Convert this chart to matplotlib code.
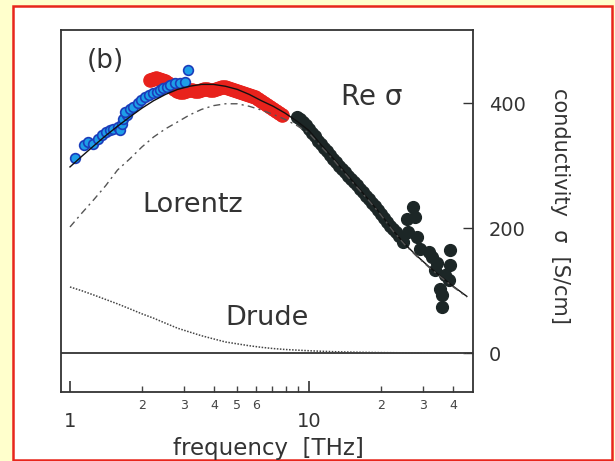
import matplotlib.pyplot as plt
from matplotlib.patches import Rectangle

# data (frequency in THz, conductivity in S/cm)
blue_f = [1.05, 1.14, 1.19, 1.25, 1.31, 1.36, 1.42, 1.47, 1.52, 1.59, 1.62, 1.65, 1.67, 1.73, 1.70,
          1.78, 1.84, 1.93, 1.99, 2.06, 2.13, 2.23, 2.31, 2.38, 2.46, 2.54, 2.62, 2.75, 2.89, 3.03, 3.12]
blue_s = [313, 333, 338, 335, 343, 349, 354, 357, 359, 362, 357, 367, 375, 381, 386,
          391, 394, 400, 405, 410, 413, 416, 418, 421, 424, 426, 429, 432, 433, 434, 453]

red_f = [2.16, 2.23, 2.29, 2.36, 2.43, 2.50, 2.57, 2.65, 2.72, 2.80, 2.89, 2.97, 3.06, 3.15, 3.24,
         3.33, 3.43, 3.53, 3.64, 3.74, 3.85, 3.97, 4.08, 4.20, 4.33, 4.45, 4.58, 4.72, 4.86, 5.00,
         5.15, 5.30, 5.45, 5.61, 5.78, 5.95, 6.12, 6.30, 6.48, 6.67, 6.87, 7.07, 7.28, 7.49, 7.71]
red_s = [437, 438, 440, 438, 437, 435, 432, 427, 422, 419, 418, 418, 419, 421, 421,
         419, 419, 421, 422, 422, 421, 421, 422, 424, 426, 426, 424, 422, 421, 419,
         418, 416, 414, 413, 411, 410, 406, 403, 400, 397, 394, 390, 387, 384, 381]

black_f = [8.92, 9.15, 9.45, 9.74, 10.0, 10.3, 10.6, 10.9, 11.2, 11.6, 11.9, 12.2, 12.6, 13.0,
           13.4, 13.7, 14.1, 14.6, 15.0, 15.4, 15.9, 16.4, 16.8, 17.3, 17.8, 18.3, 18.9, 19.4,
           20.0, 20.6, 21.2, 21.8, 22.4, 23.1, 23.8, 24.5,
           27.3, 27.8, 25.6, 26.0, 28.3, 24.8, 29.1, 31.6, 32.7, 38.9, 38.9, 33.6, 37.1, 38.4,
           35.3, 35.9, 35.9, 34.3]
black_s = [378, 374, 370, 365, 358, 352, 347, 339, 334, 328, 323, 317, 310, 306,
           299, 294, 290, 283, 278, 274, 269, 262, 258, 251, 246, 240, 235, 229,
           222, 216, 210, 203, 198, 194, 187, 184,
           234, 218, 215, 194, 186, 178, 167, 162, 154, 165, 141, 133, 125, 117,
           103, 93, 74, 144]

fit_f = [1.0, 1.12, 1.26, 1.41, 1.58, 1.78, 2.0, 2.24, 2.51, 2.82, 3.16, 3.55, 3.98, 4.47, 5.01,
         5.62, 6.31, 7.08, 7.94, 8.91, 10.0, 11.2, 12.6, 14.1, 15.8, 17.8, 20.0, 22.4, 25.1,
         28.2, 31.6, 35.5, 39.8, 45.7]
total_s = [298, 315, 332, 348, 363, 378, 392, 404, 414, 422, 427, 430, 430, 427, 422,
           414, 404, 395, 384, 371, 356, 334, 312, 290, 268, 245, 222, 197, 175,
           156, 139, 123, 108, 91]
lorentz_s = [202, 224, 246, 268, 293, 311, 330, 346, 359, 370, 381, 390, 396, 399, 399,
             395, 389, 382, 374, 364, 352, 331, 310, 288, 266, 244, 221, 196, 174,
             155, 138, 122, 107, 90]
drude_s = [106, 100, 93, 86, 79, 71, 63, 56, 48, 40, 34, 28, 23, 18, 15,
           12, 9.5, 7.5, 6, 5, 4, 3.2, 2.5, 2, 1.6, 1.3, 1, 0.85, 0.7,
           0.55, 0.4, 0.35, 0.3, 0.2]

yticks = [0, 200, 400]
minor_x = [2, 3, 4, 5, 6, 7, 8, 9, 20, 30, 40]
minor_lab = ['2', '3', '4', '5', '6', '', '', '', '2', '3', '4']

fig = plt.figure(figsize=(6.15, 4.61), dpi=100, facecolor='#FFFFCC')
fig.patches.append(Rectangle((13 / 615, 1 - 460 / 461), 599 / 615, 454 / 461,
                             transform=fig.transFigure, facecolor='white',
                             edgecolor='#E8261C', lw=1.8, zorder=-5))

ax = fig.add_axes([61 / 615, 1 - 392 / 461, 412 / 615, 362 / 461])
ax.set_zorder(1)
ax.set_xscale('log')

ax.plot(red_f, red_s, 'o', ms=9.5, color='#E8221C', mec='#E8221C', zorder=2)
ax.plot(blue_f, blue_s, 'o', ms=7, mfc='#1E9EE8', mec='#1B3DBB', mew=1.2, zorder=3)
ax.plot(black_f, black_s, 'o', ms=8.5, color='#1C2626', zorder=3)

ax.plot(fit_f, total_s, color='#111111', lw=1.0, zorder=4)
ax.plot(fit_f, lorentz_s, color='#555555', lw=1.0, ls=(0, (5, 3, 1.5, 3)), zorder=4)
ax.plot(fit_f, drude_s, color='#444444', lw=1.1, ls=(0, (1, 1)), zorder=4)
ax.axhline(0, color='#333333', lw=1.3, zorder=1)

ax.set_xlim(0.917, 48.5)
ax.set_ylim(-62, 517)

for s in ax.spines.values():
    s.set_color('#333333')
    s.set_linewidth(1.3)

ax.yaxis.tick_right()
ax.set_yticks(yticks)
ax.tick_params(axis='y', direction='in', length=7, width=1, pad=11.5,
               labelsize=14, colors='#333333')

ax.set_xticks([1, 10], labels=['1', '10'])
ax.set_xticks(minor_x, labels=minor_lab, minor=True)
ax.tick_params(axis='x', which='major', direction='in', length=8, width=1.2, pad=14.5,
               labelsize=14, colors='#333333')
ax.tick_params(axis='x', which='minor', direction='in', length=4, width=1, pad=5,
               labelsize=9, colors='#444444')

# labels inside the plot
def px(x, y):
    return (x - 61) / 412, (392 - y) / 362

ax.text(*px(105, 61), '(b)', transform=ax.transAxes, ha='center', va='center',
        fontsize=19, color='#333333')
ax.text(*px(372, 105), 'Re σ', transform=ax.transAxes, ha='center', va='baseline',
        fontsize=20, color='#333333')
ax.text(*px(193, 212), 'Lorentz', transform=ax.transAxes, ha='center', va='baseline',
        fontsize=19.5, color='#333333')
ax.text(*px(267, 325), 'Drude', transform=ax.transAxes, ha='center', va='baseline',
        fontsize=19.5, color='#333333')

fig.text(560 / 615, 1 - 206 / 461, 'conductivity  σ  [S/cm]', rotation=270,
         ha='center', va='center', fontsize=15, color='#333333')
fig.text(268 / 615, 1 - 455 / 461, 'frequency  [THz]', ha='center', va='baseline',
         fontsize=16.5, color='#333333')

fig.savefig('out.png', dpi=100, facecolor=fig.get_facecolor())
